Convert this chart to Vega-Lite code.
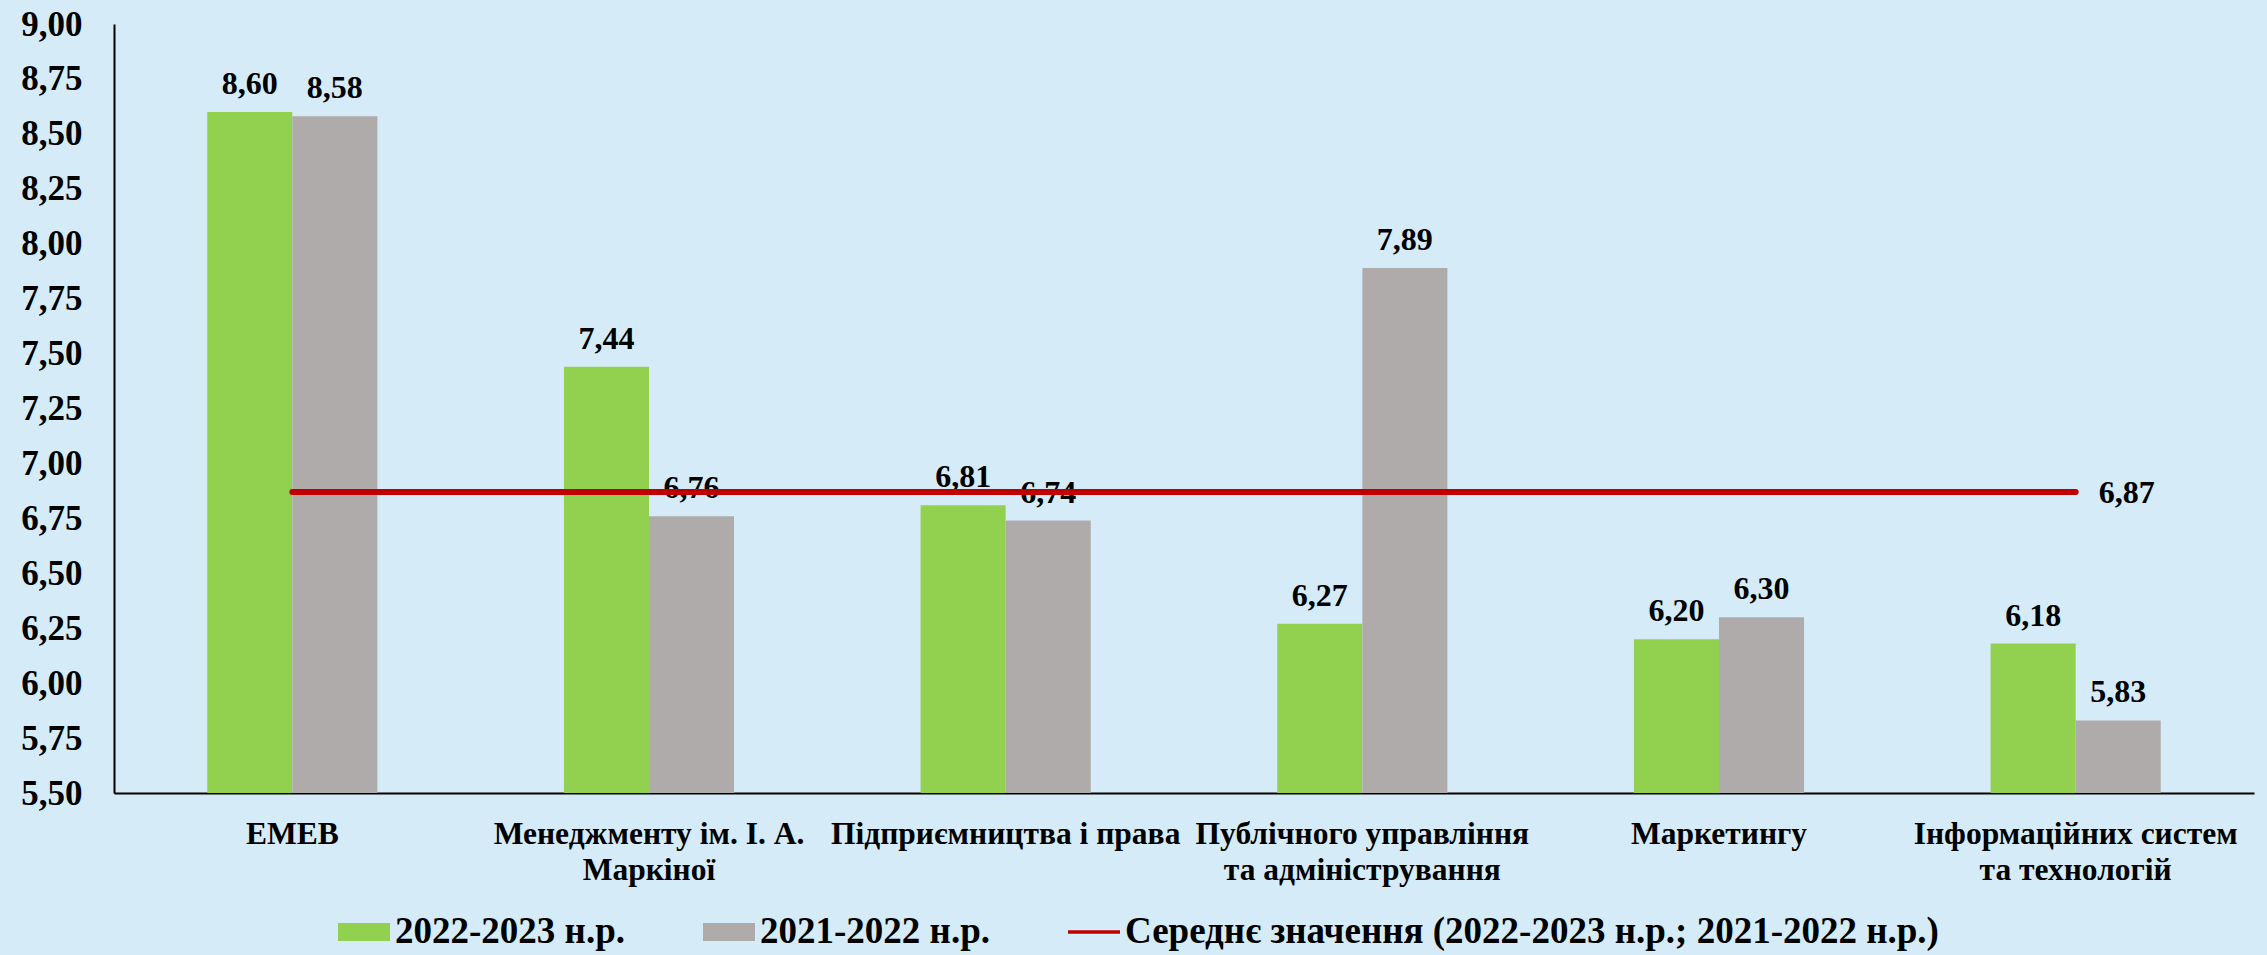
{
  "$schema": "https://vega.github.io/schema/vega-lite/v6.json",
  "width": 2140,
  "height": 769,
  "autosize": {"type": "none"},
  "padding": {"left": 114, "top": 24, "right": 13, "bottom": 162},
  "background": "#D5ECF8",
  "config": {
    "view": {"stroke": null},
    "font": "Liberation Serif",
    "locale": {"number": {"decimal": ",", "thousands": " ", "grouping": [3], "currency": ["", ""]}}
  },
  "datasets": {
    "bars": [
      {"faculty": "ЕМЕВ", "series": "2022-2023 н.р.", "value": 8.60},
      {"faculty": "ЕМЕВ", "series": "2021-2022 н.р.", "value": 8.58},
      {"faculty": "Менеджменту ім. І. А.|Маркіної", "series": "2022-2023 н.р.", "value": 7.44},
      {"faculty": "Менеджменту ім. І. А.|Маркіної", "series": "2021-2022 н.р.", "value": 6.76},
      {"faculty": "Підприємництва і права", "series": "2022-2023 н.р.", "value": 6.81},
      {"faculty": "Підприємництва і права", "series": "2021-2022 н.р.", "value": 6.74},
      {"faculty": "Публічного управління|та адміністрування", "series": "2022-2023 н.р.", "value": 6.27},
      {"faculty": "Публічного управління|та адміністрування", "series": "2021-2022 н.р.", "value": 7.89},
      {"faculty": "Маркетингу", "series": "2022-2023 н.р.", "value": 6.20},
      {"faculty": "Маркетингу", "series": "2021-2022 н.р.", "value": 6.30},
      {"faculty": "Інформаційних систем|та технологій", "series": "2022-2023 н.р.", "value": 6.18},
      {"faculty": "Інформаційних систем|та технологій", "series": "2021-2022 н.р.", "value": 5.83}
    ],
    "avg": [
      {"faculty": "ЕМЕВ", "avg": 6.87},
      {"faculty": "Менеджменту ім. І. А.|Маркіної", "avg": 6.87},
      {"faculty": "Підприємництва і права", "avg": 6.87},
      {"faculty": "Публічного управління|та адміністрування", "avg": 6.87},
      {"faculty": "Маркетингу", "avg": 6.87},
      {"faculty": "Інформаційних систем|та технологій", "avg": 6.87}
    ]
  },
  "layer": [
    {
      "data": {"name": "bars"},
      "mark": {"type": "bar"},
      "encoding": {
        "x": {
          "field": "faculty", "type": "nominal",
          "sort": ["ЕМЕВ", "Менеджменту ім. І. А.|Маркіної", "Підприємництва і права", "Публічного управління|та адміністрування", "Маркетингу", "Інформаційних систем|та технологій"],
          "scale": {"paddingInner": 0.523, "paddingOuter": 0.2615},
          "axis": {
            "title": null, "labelAngle": 0, "ticks": false, "tickSize": 0,
            "domainColor": "#000000", "domainWidth": 2,
            "labelExpr": "split(datum.label, '|')",
            "labelFont": "Liberation Serif", "labelFontWeight": "bold", "labelFontSize": 31.5,
            "labelLineHeight": 36, "labelColor": "#000000", "labelPadding": 25,
            "labelBaseline": "top", "labelLimit": 600
          }
        },
        "xOffset": {"field": "series", "type": "nominal", "sort": ["2022-2023 н.р.", "2021-2022 н.р."], "scale": {"paddingInner": 0, "paddingOuter": 0}},
        "y": {
          "field": "value", "type": "quantitative",
          "scale": {"domain": [5.5, 9], "nice": false, "zero": false},
          "axis": {
            "title": null, "format": ".2f",
            "values": [5.5, 5.75, 6, 6.25, 6.5, 6.75, 7, 7.25, 7.5, 7.75, 8, 8.25, 8.5, 8.75, 9],
            "ticks": false, "tickSize": 0, "grid": false,
            "domainColor": "#000000", "domainWidth": 2,
            "labelFont": "Liberation Serif", "labelFontWeight": "bold", "labelFontSize": 35,
            "labelColor": "#000000", "labelPadding": 32
          }
        },
        "y2": {"datum": 5.5},
        "color": {
          "field": "series", "type": "nominal",
          "scale": {
            "domain": ["2022-2023 н.р.", "2021-2022 н.р.", "Середнє значення (2022-2023 н.р.; 2021-2022 н.р.)"],
            "range": ["#92D050", "#AFABAB", "#C00000"]
          },
          "legend": {
            "orient": "none", "legendX": 224, "legendY": 882,
            "direction": "horizontal", "title": null, "padding": 0,
            "symbolSize": 2704, "symbolType": "M-1,-0.35H1V0.35H-1Z", "symbolStrokeWidth": 0,
            "labelFont": "Liberation Serif", "labelFontWeight": "bold", "labelFontSize": 37,
            "labelColor": "#000000", "labelOffset": 5, "columnPadding": 78, "labelLimit": 1200,
            "encode": {
              "symbols": {
                "update": {
                  "shape": {"signal": "datum.value == 'Середнє значення (2022-2023 н.р.; 2021-2022 н.р.)' ? 'M-1,-0.07H1V0.07H-1Z' : 'M-1,-0.35H1V0.35H-1Z'"},
                  "fill": {"scale": "color", "field": "value"},
                  "stroke": {"value": "transparent"},
                  "opacity": {"value": 1}
                }
              }
            }
          }
        }
      }
    },
    {
      "data": {"name": "bars"},
      "mark": {"type": "text", "font": "Liberation Serif", "fontWeight": "bold", "fontSize": 32, "color": "#000000", "baseline": "alphabetic", "dy": -18},
      "encoding": {
        "x": {"field": "faculty", "type": "nominal", "sort": ["ЕМЕВ", "Менеджменту ім. І. А.|Маркіної", "Підприємництва і права", "Публічного управління|та адміністрування", "Маркетингу", "Інформаційних систем|та технологій"]},
        "xOffset": {"field": "series", "type": "nominal", "sort": ["2022-2023 н.р.", "2021-2022 н.р."]},
        "y": {"field": "value", "type": "quantitative"},
        "text": {"field": "value", "type": "quantitative", "format": ".2f"}
      }
    },
    {
      "data": {"name": "avg"},
      "mark": {"type": "line", "color": "#C00000", "strokeWidth": 6, "strokeCap": "round"},
      "encoding": {
        "x": {"field": "faculty", "type": "nominal", "sort": ["ЕМЕВ", "Менеджменту ім. І. А.|Маркіної", "Підприємництва і права", "Публічного управління|та адміністрування", "Маркетингу", "Інформаційних систем|та технологій"]},
        "y": {"field": "avg", "type": "quantitative"},
        "color": {"datum": "Середнє значення (2022-2023 н.р.; 2021-2022 н.р.)"}
      }
    },
    {
      "data": {"name": "avg"},
      "transform": [{"filter": "datum.faculty == 'Інформаційних систем|та технологій'"}],
      "mark": {"type": "text", "font": "Liberation Serif", "fontWeight": "bold", "fontSize": 32, "color": "#000000", "baseline": "middle", "align": "center", "dx": 51, "dy": 1},
      "encoding": {
        "x": {"field": "faculty", "type": "nominal", "sort": ["ЕМЕВ", "Менеджменту ім. І. А.|Маркіної", "Підприємництва і права", "Публічного управління|та адміністрування", "Маркетингу", "Інформаційних систем|та технологій"]},
        "y": {"field": "avg", "type": "quantitative"},
        "text": {"field": "avg", "type": "quantitative", "format": ".2f"}
      }
    }
  ]
}
